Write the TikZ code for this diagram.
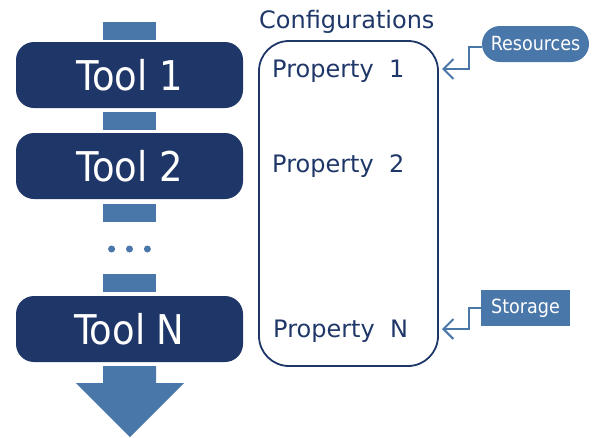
\documentclass[tikz,border=0pt]{standalone}
\usepackage{fontspec}
\setmainfont{DejaVu Sans}
\newfontfamily\condfont{DejaVu Sans Condensed}
\usepackage{tikz}
\usetikzlibrary{positioning,arrows.meta}
\definecolor{navy}{HTML}{1F3768}
\definecolor{steel}{HTML}{4A77A9}

\begin{document}
\begin{tikzpicture}[
    x=1pt, y=-1pt,
    tool/.style={fill=navy, rounded corners=18pt, minimum width=227pt, minimum height=66pt, inner sep=0pt, text=white, font=\condfont\fontsize{41}{41}\selectfont},
    bar/.style={fill=steel, minimum width=53pt, minimum height=18pt, inner sep=0pt},
    dot/.style={circle, fill=steel, minimum size=7pt, inner sep=0pt},
    prop/.style={anchor=base west, inner sep=0pt, text=navy, font=\fontsize{24}{28}\selectfont},
    tag/.style={fill=steel, minimum height=36pt, inner sep=0pt, text=white, font=\condfont\fontsize{19.5}{22}\selectfont},
    link/.style={draw=steel, line width=2pt, -{Straight Barb[length=10pt, width=20pt]}}
]
\useasboundingbox (0,0) rectangle (597,437);

% tool chain
\node[bar]  (b0) at (129.5,30.5) {};
\node[tool] (t1) at (129.5,75)   {Tool 1};
\node[bar]  (b1) at (129.5,121)  {};
\node[tool] (t2) at (129.5,166)  {Tool 2};
\node[bar]  (b2) at (129.5,213)  {};
\node[dot]  (d2) at (129.5,249)  {};
\node[dot, left=10.5pt of d2]  (d1) {};
\node[dot, right=10.5pt of d2] (d3) {};
\node[bar]  (b3) at (129.5,283)  {};
\node[tool] (tN) at (129.5,329)  {Tool N};
\fill[steel] (103,366) -- (156,366) -- (156,383) -- (184,383) -- (130,437) -- (76,383) -- (103,383) -- cycle;

% configurations
\node[draw=navy, line width=1.8pt, rounded corners=30pt, minimum width=179pt, minimum height=325pt] (cfg) at (348.5,203.5) {};
\node[prop] (title) at (259,28) {Configurations};
\node[prop] (p1) at (272,77)  {Property~~1};
\node[prop] (p2) at (272,172) {Property~~2};
\node[prop] (pN) at (273,337) {Property~~N};

% inputs
\node[tag, rounded corners=18pt, minimum width=107pt] (res) at (535.5,44)  {Resources};
\node[tag, minimum width=89pt]                      (sto) at (525.5,308) {Storage};
\coordinate (in1) at (442,69);
\coordinate (inN) at (442,329);
\draw[link] ([yshift=-3pt]res.west) -- ++(-13,0) |- (in1);
\draw[link] (sto.west) -- ++(-12,0) |- (inN);
\end{tikzpicture}
\end{document}
